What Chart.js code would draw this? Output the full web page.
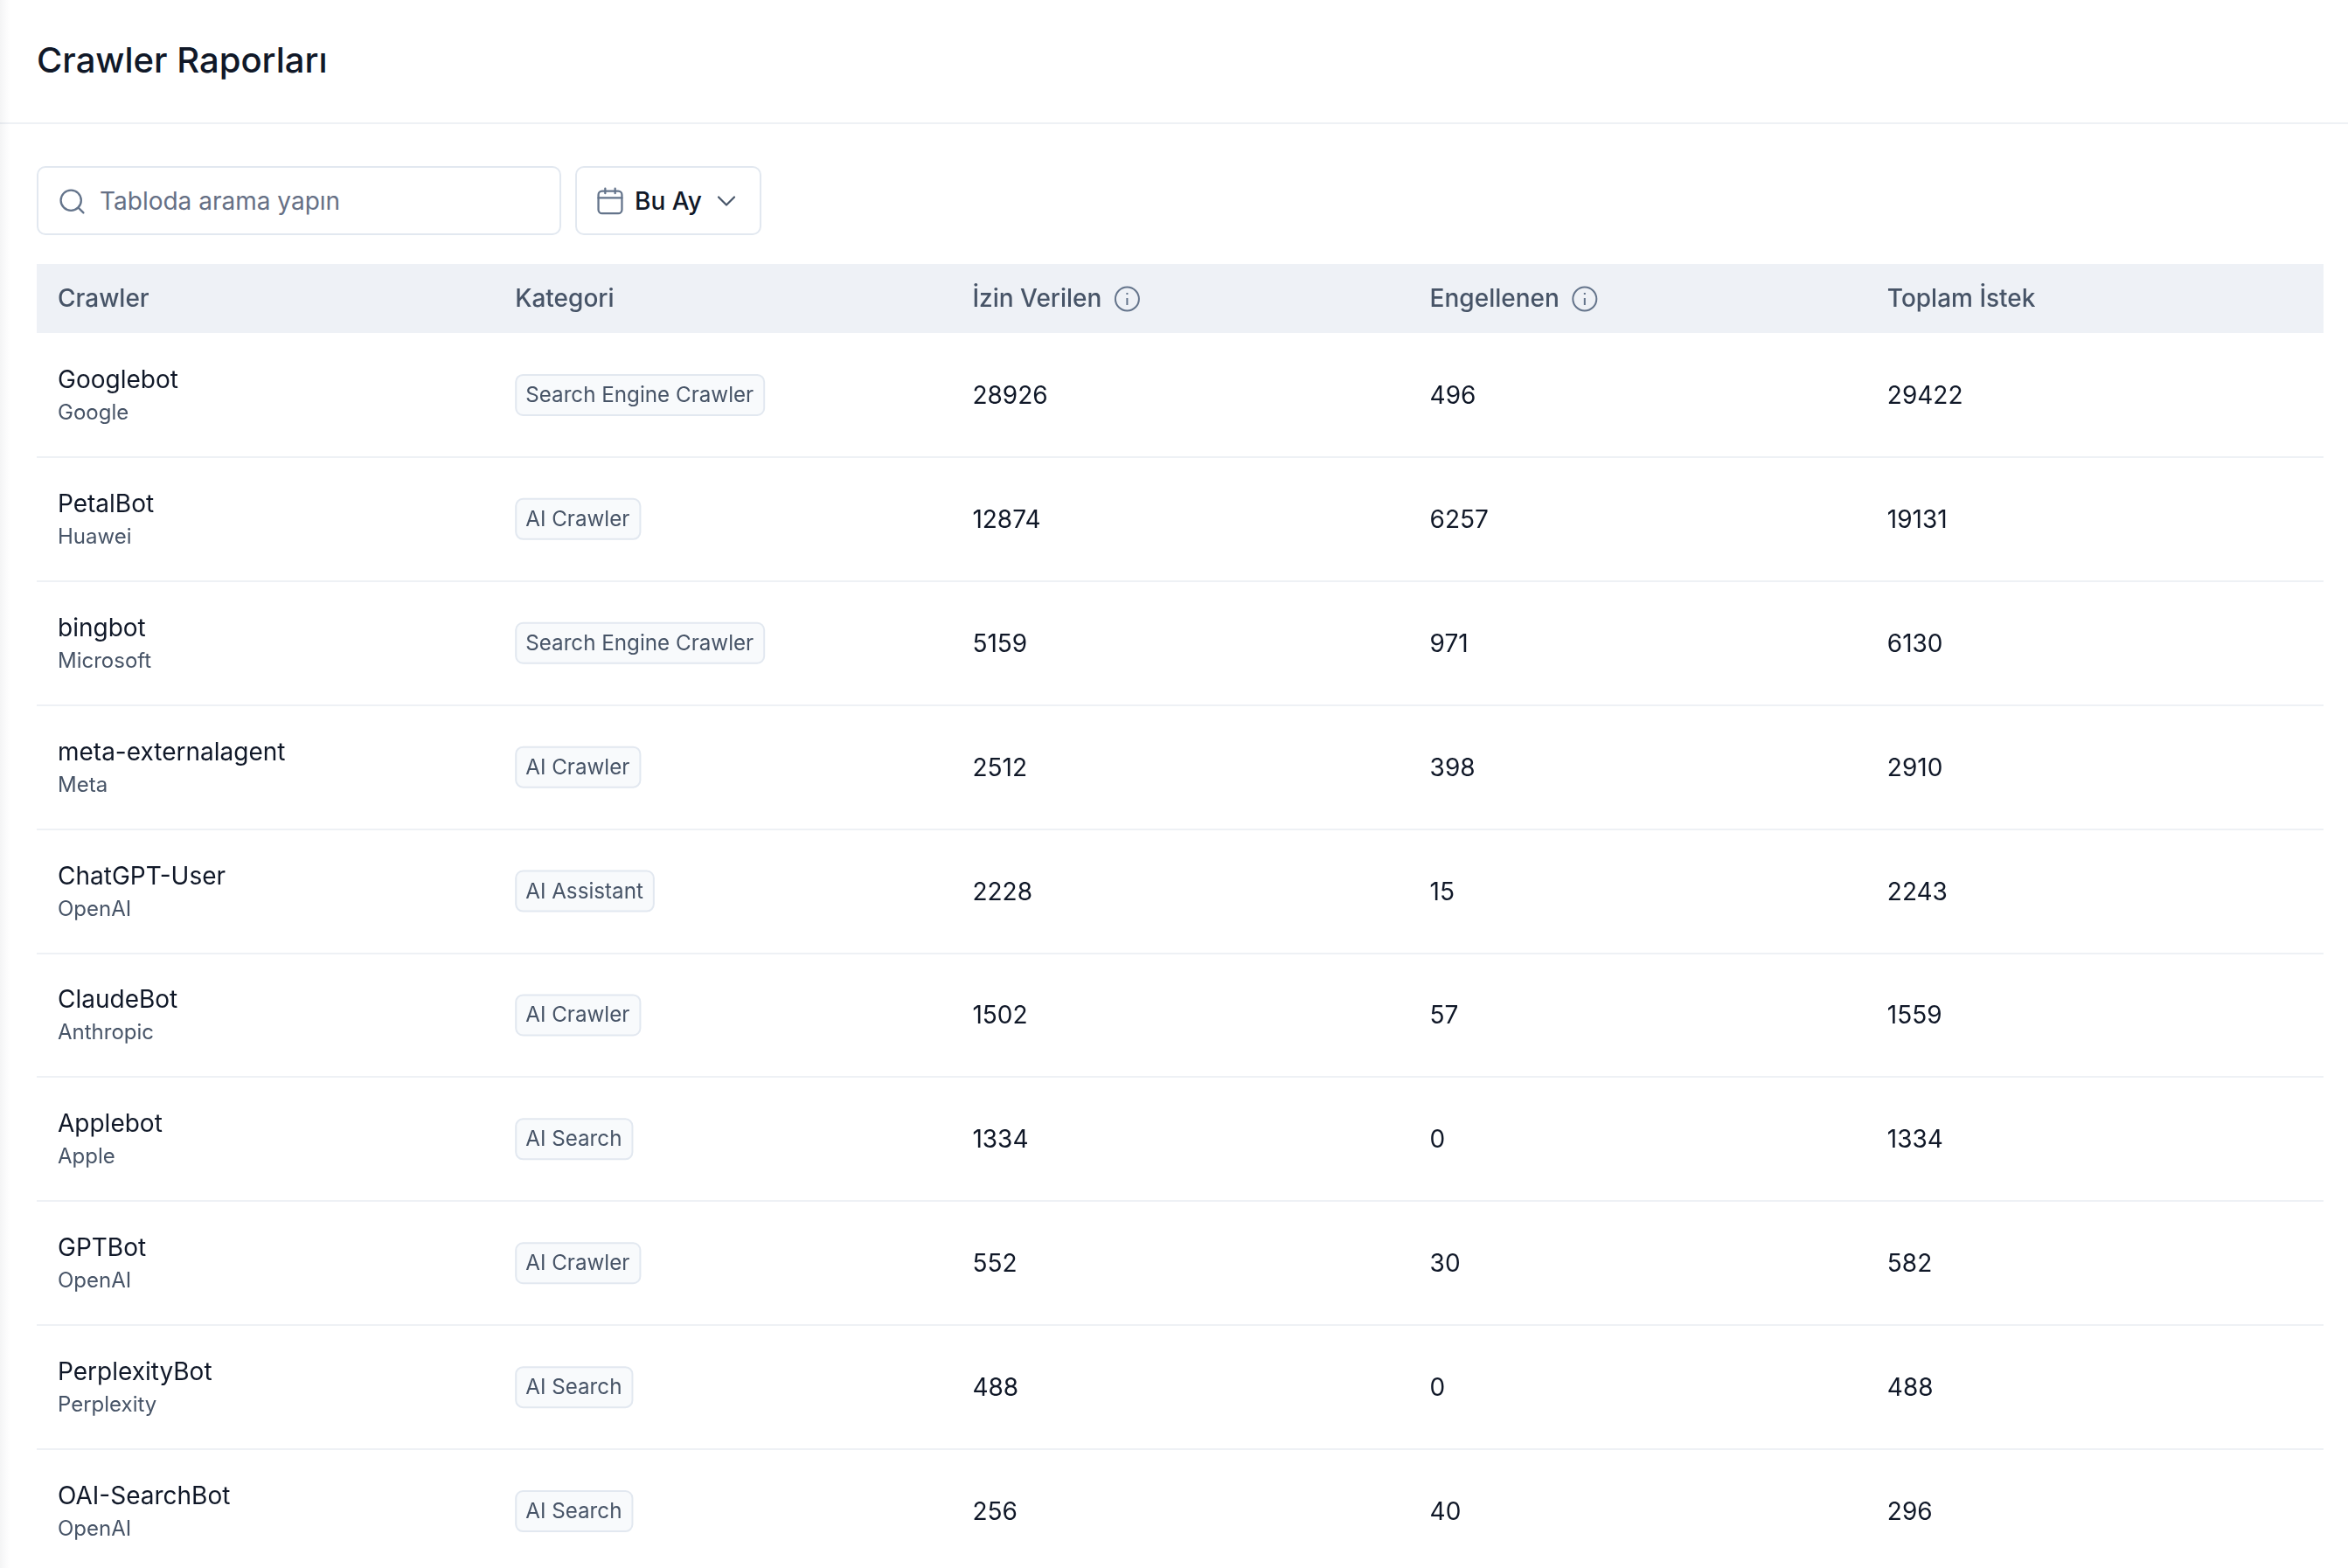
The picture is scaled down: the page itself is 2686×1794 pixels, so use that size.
<!DOCTYPE html>
<html lang="tr">
<head>
<meta charset="utf-8">
<title>Crawler Raporları</title>
<script src="https://cdn.jsdelivr.net/npm/chart.js@4/dist/chart.umd.min.js"></script>
<style>
    html, body { margin: 0; width: 2686px; height: 1794px; overflow: hidden; background: #fff; font-family: Inter, sans-serif; }
    .shade { position: absolute; left: 0; top: 0; width: 12px; height: 1794px; background: linear-gradient(90deg, rgba(15, 23, 42, .045), rgba(15, 23, 42, 0)); z-index: 3; }
    h1 { position: absolute; left: 42px; top: 46px; margin: 0; font-size: 40px; line-height: 46px; font-weight: 500; color: #101828; white-space: nowrap; }
    .rule { position: absolute; left: 0; top: 140px; width: 2686px; height: 2px; background: #eef1f5; }
    .box { position: absolute; top: 190px; height: 79px; box-sizing: border-box; border: 2px solid #e2e8f0; border-radius: 10px; background: #fff; }
    .search { left: 42px; width: 600px; }
    .date { left: 658px; width: 213px; }
    .box svg { position: absolute; }
    .box span { position: absolute; top: 0; line-height: 75px; font-size: 28px; white-space: nowrap; }
    .search span { left: 70px; top: 1px; color: #667085; }
    .date span { left: 66px; top: 1px; color: #101828; font-weight: 500; }
    canvas { position: absolute; left: 0; top: 302px; }
</style>
</head>
<body>
<div class="shade"></div>
<h1>Crawler Raporları</h1>
<div class="rule"></div>
<div class="box search">
    <svg style="left:23px;top:23px" width="31" height="31" viewBox="0 0 24 24" fill="none" stroke="#64748b" stroke-width="1.8" stroke-linecap="round"><circle cx="11" cy="11" r="9"/><path d="M22 22l-4.5-4.5"/></svg>
    <span>Tabloda arama yapın</span>
</div>
<div class="box date">
    <svg style="left:21px;top:21px" width="34" height="34" viewBox="0 0 24 24" fill="none" stroke="#64748b" stroke-width="1.6" stroke-linecap="round"><rect x="2.5" y="4" width="19" height="18" rx="3"/><path d="M2.5 9.5h19M8 1.8v4M16 1.8v4"/></svg>
    <span>Bu Ay</span>
    <svg style="left:160px;top:31px" width="22" height="14" viewBox="0 0 22 14" fill="none" stroke="#475569" stroke-width="2.2" stroke-linecap="round" stroke-linejoin="round"><path d="M2 2.5l9 9 9-9"/></svg>
</div>
<canvas id="table" width="2686" height="1498"></canvas>
<script>
const columns = ['Crawler', 'Kategori', 'İzin Verilen', 'Engellenen', 'Toplam İstek'];
const infoColumns = ['İzin Verilen', 'Engellenen'];

const crawlers = ['Googlebot', 'PetalBot', 'bingbot', 'meta-externalagent', 'ChatGPT-User', 'ClaudeBot', 'Applebot', 'GPTBot', 'PerplexityBot', 'OAI-SearchBot'];
const owners = ['Google', 'Huawei', 'Microsoft', 'Meta', 'OpenAI', 'Anthropic', 'Apple', 'OpenAI', 'Perplexity', 'OpenAI'];
const categories = ['Search Engine Crawler', 'AI Crawler', 'Search Engine Crawler', 'AI Crawler', 'AI Assistant', 'AI Crawler', 'AI Search', 'AI Crawler', 'AI Search', 'AI Search'];
const allowed = [28926, 12874, 5159, 2512, 2228, 1502, 1334, 552, 488, 256];
const blocked = [496, 6257, 971, 398, 15, 57, 0, 30, 0, 40];
const totals = [29422, 19131, 6130, 2910, 2243, 1559, 1334, 582, 488, 296];

const cellValues = [crawlers, categories, allowed, blocked, totals];

const font = 'Inter, sans-serif';
const cellPadding = 24;

function drawBadge(ctx, text, x, y) {
    ctx.font = '400 24.2px ' + font;
    const width = ctx.measureText(text).width + 25;

    ctx.beginPath();
    ctx.roundRect(x + 1, y - 23, width - 2, 46, 8);
    ctx.fillStyle = '#f8fafc';
    ctx.fill();
    ctx.lineWidth = 2;
    ctx.strokeStyle = '#e2e8f0';
    ctx.stroke();

    ctx.fillStyle = '#475467';
    ctx.fillText(text, x + 12, y + 8);
}

function drawInfoIcon(ctx, x, y) {
    ctx.beginPath();
    ctx.arc(x, y, 13.5, 0, Math.PI * 2);
    ctx.lineWidth = 2;
    ctx.strokeStyle = '#64748b';
    ctx.stroke();
    ctx.beginPath();
    ctx.moveTo(x, y - 1);
    ctx.lineTo(x, y + 7);
    ctx.moveTo(x, y - 7);
    ctx.lineTo(x, y - 5);
    ctx.stroke();
}

const tableCells = {
    id: 'tableCells',
    afterDatasetsDraw(chart) {
        const ctx = chart.ctx;
        const xScale = chart.scales.x;

        ctx.save();
        ctx.textAlign = 'left';
        ctx.textBaseline = 'alphabetic';

        chart.data.datasets.forEach((dataset, col) => {
            chart.getDatasetMeta(col).data.forEach((point, row) => {
                const x = point.x + cellPadding;
                const y = point.y;
                const value = cellValues[col][row];

                if (col === 0) {
                    ctx.font = '400 28px ' + font;
                    ctx.fillStyle = '#101828';
                    ctx.fillText(value, x, y - 8);
                    ctx.font = '400 24px ' + font;
                    ctx.fillStyle = '#475467';
                    ctx.fillText(owners[row], x, y + 28);
                } else if (col === 1) {
                    drawBadge(ctx, value, x, y);
                } else {
                    ctx.font = '400 28px ' + font;
                    ctx.fillStyle = '#101828';
                    ctx.fillText(String(value), x, y + 10);
                }
            });
        });

        ctx.font = '500 28px ' + font;
        infoColumns.forEach(name => {
            const x = xScale.getPixelForValue(columns.indexOf(name)) + cellPadding + ctx.measureText(name).width + 29;
            drawInfoIcon(ctx, x, 40);
        });
        ctx.restore();
    }
};

new Chart(document.getElementById('table'), {
    type: 'scatter',
    data: {
        datasets: columns.map(name => ({
            label: name,
            data: crawlers.map(crawler => ({ x: name, y: crawler })),
            pointRadius: 0
        }))
    },
    options: {
        responsive: false,
        devicePixelRatio: 1,
        animation: false,
        events: [],
        layout: { padding: { left: 42, right: 28, top: 0, bottom: 0 } },
        plugins: { legend: { display: false }, tooltip: { enabled: false } },
        scales: {
            x: {
                type: 'category',
                position: 'top',
                labels: [...columns, ''],
                offset: false,
                backgroundColor: '#eef1f6',
                afterFit(scale) { scale.height = 79; },
                border: { display: false },
                grid: { display: false, drawTicks: false },
                ticks: {
                    autoSkip: false,
                    maxRotation: 0,
                    align: 'start',
                    labelOffset: cellPadding,
                    padding: 22,
                    color: '#475467',
                    font: { family: font, size: 28, weight: '500' }
                }
            },
            y: {
                type: 'category',
                labels: crawlers,
                offset: true,
                border: { display: false },
                grid: {
                    offset: true,
                    drawTicks: false,
                    lineWidth: 2,
                    color: context => context.index === 0 ? 'transparent' : '#eef1f5'
                },
                ticks: { display: false }
            }
        }
    },
    plugins: [tableCells]
});
</script>
</body>
</html>
